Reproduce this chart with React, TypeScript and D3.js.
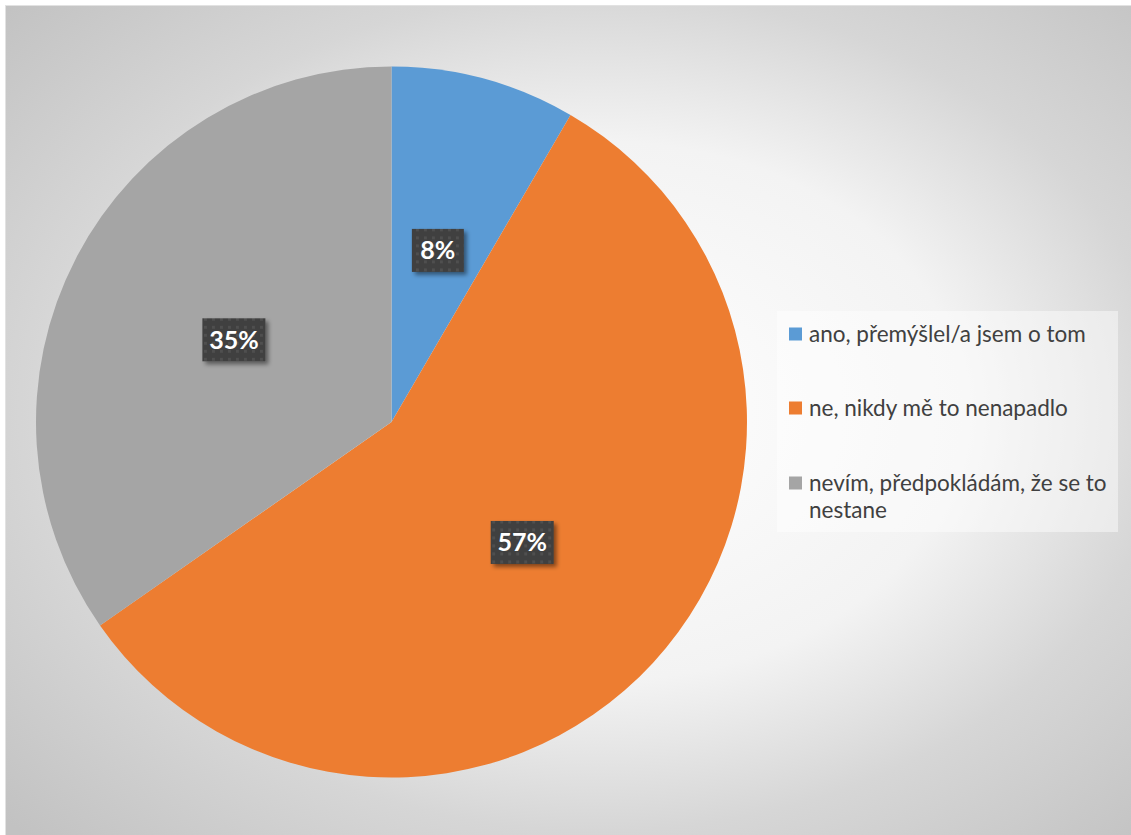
import React from "react";
import * as d3 from "d3";

const categories = [
  "ano, přemýšlel/a jsem o tom",
  "ne, nikdy mě to nenapadlo",
  "nevím, předpokládám, že se to nestane",
];
const values = [8.4, 56.9, 34.7];
const colors = ["#5B9BD5", "#ED7D31", "#A5A5A5"];

const W = 1131;
const H = 835;

function wrap(text: string, maxW: number, font: string): string[] {
  const c = document.createElement("canvas").getContext("2d")!;
  c.font = font;
  const words = text.split(" ");
  const lines: string[] = [];
  let cur = "";
  for (const w of words) {
    const t = cur ? cur + " " + w : w;
    if (c.measureText(t).width > maxW && cur) {
      lines.push(cur);
      cur = w;
    } else cur = t;
  }
  if (cur) lines.push(cur);
  return lines;
}

export default function App() {
  const cx = 391.5;
  const cy = 422;
  const r = 355.5;
  const total = d3.sum(values);
  const pie = d3.pie<number>().sort(null).value((d) => d);
  const arcs = pie(values);
  const arc = d3.arc<d3.PieArcDatum<number>>().innerRadius(0).outerRadius(r);

  const legendFont = "22.5px Lato";
  const legendX = 777;
  const legendY = 311;
  const itemY = [334, 408, 483];
  const lineH = 27;

  return (
    <svg
      width={W}
      height={H}
      style={{ position: "absolute", left: 0, top: 0, display: "block" }}
    >
      <defs>
        <radialGradient id="bg" cx="0.52" cy="0.48" r="0.71">
          <stop offset="0" stopColor="#ffffff" />
          <stop offset="0.45" stopColor="#f3f3f3" />
          <stop offset="0.7" stopColor="#d6d6d6" />
          <stop offset="1" stopColor="#c2c2c2" />
        </radialGradient>
        <pattern id="dots" width="8" height="8" patternUnits="userSpaceOnUse">
          <rect width="8" height="8" fill="#3f3f3f" />
          <rect x="2" y="2" width="3" height="3" fill="#4f4f4f" />
        </pattern>
        <filter id="shadow" x="-30%" y="-30%" width="160%" height="160%">
          <feDropShadow dx="3" dy="3" stdDeviation="2.2" floodColor="#000" floodOpacity="0.45" />
        </filter>
      </defs>
      <rect x={0} y={0} width={W} height={H} fill="#ffffff" />
      <rect x={5.5} y={5.5} width={W + 10} height={H + 10} fill="url(#bg)" stroke="#e2e2e2" strokeWidth={1} />
      <g transform={`translate(${cx},${cy})`}>
        {arcs.map((a, i) => (
          <path key={i} d={arc(a) || ""} fill={colors[i]} />
        ))}
        {arcs.map((a, i) => {
          const [x, y] = arc.centroid(a);
          const label = `${Math.round((a.data / total) * 100)}%`;
          const bw = label.length > 2 ? 63 : 52;
          const bh = 43;
          return (
            <g key={"l" + i} transform={`translate(${x},${y})`}>
              <rect
                x={-bw / 2}
                y={-bh / 2}
                width={bw}
                height={bh}
                fill="url(#dots)"
                filter="url(#shadow)"
              />
              <text
                x={0}
                y={0}
                dy="0.36em"
                textAnchor="middle"
                fill="#ffffff"
                style={{ font: "bold 25px Lato" }}
              >
                {label}
              </text>
            </g>
          );
        })}
      </g>
      <rect x={legendX} y={legendY} width={341} height={221} fill="#ffffff" fillOpacity={0.45} />
      {categories.map((c, i) => {
        const lines = wrap(c, 312, legendFont);
        return (
          <g key={"g" + i}>
            <rect x={789} y={itemY[i] - 6.5} width={13} height={13} fill={colors[i]} />
            <text
              x={809}
              y={itemY[i]}
              fill="#404040"
              style={{ font: legendFont }}
            >
              {lines.map((l, j) => (
                <tspan key={j} x={809} dy={j === 0 ? "0.35em" : lineH}>
                  {l}
                </tspan>
              ))}
            </text>
          </g>
        );
      })}
    </svg>
  );
}
